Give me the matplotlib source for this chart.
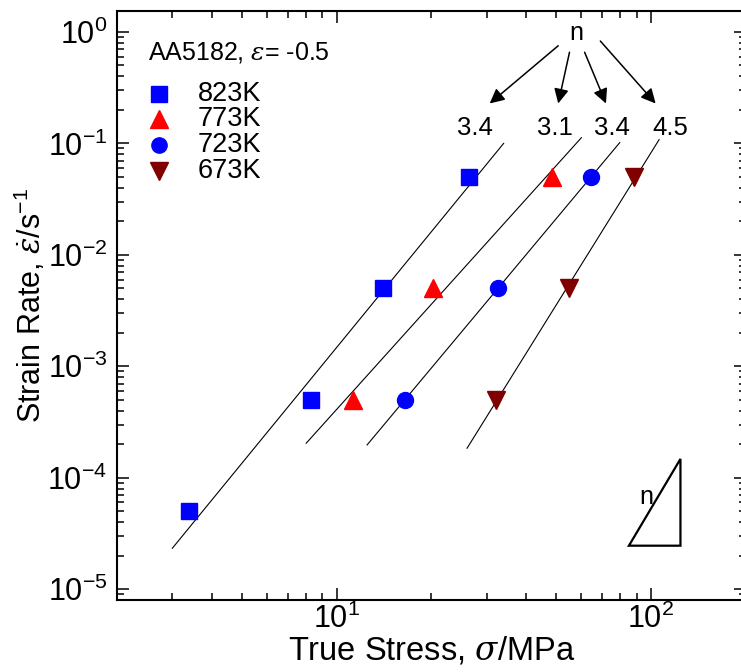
import matplotlib
matplotlib.use("Agg")
import matplotlib.pyplot as plt
from matplotlib.ticker import LogLocator, NullFormatter
from matplotlib.patches import Polygon

plt.rcParams['font.family'] = ['Liberation Sans', 'DejaVu Sans']
plt.rcParams['mathtext.fontset'] = 'custom'
plt.rcParams['mathtext.rm'] = 'Liberation Sans'
plt.rcParams['mathtext.it'] = 'DejaVu Serif:italic'

# data (stress in MPa, strain rate in 1/s)
temps = ["823K", "773K", "723K", "673K"]
rates = [5e-5, 5e-4, 5e-3, 5e-2]
stress_823 = [3.4, 8.3, 14.0, 26.3]
stress_773 = [None, 11.3, 20.2, 48.4]
stress_723 = [None, 16.5, 32.6, 64.4]
stress_673 = [None, 32.1, 54.8, 88.3]
n_values = ["3.4", "3.1", "3.4", "4.5"]

# fitted power-law lines, end points (stress, rate)
fit_stress = [[3.0, 34.0], [8.0, 60.1], [12.5, 79.6], [26.0, 106.2]]
fit_rate = [[2.33e-5, 0.100], [2.04e-4, 0.1125], [1.97e-4, 0.1016], [1.84e-4, 0.108]]

markers = ['s', '^', 'o', 'v']
colors = ['#0000ff', '#ff0000', '#0000ff', '#800000']
sizes = [12, 13, 11.5, 13]

fig = plt.figure(figsize=(7.41, 6.72), dpi=100)
ax = fig.add_axes([117/741, 72/672, 628.5/741, 589/672])
ax.set_xscale('log')
ax.set_yscale('log')
ax.set_xlim(2, 200)
ax.set_ylim(8e-6, 1.54)

all_stress = [stress_823, stress_773, stress_723, stress_673]
for i in range(4):
    xs = [s for s in all_stress[i] if s is not None]
    ys = [r for s, r in zip(all_stress[i], rates) if s is not None]
    ax.plot(fit_stress[i], fit_rate[i], color='k', lw=0.8, zorder=2)
    ax.plot(xs, ys, ls='none', marker=markers[i], color=colors[i], ms=sizes[i],
            mec=colors[i], zorder=3)

# legend drawn by hand (tight row spacing)
leg_y = [0.859, 0.817, 0.772, 0.728]
for i in range(4):
    ax.plot([0.0675], [leg_y[i]], marker=markers[i], color=colors[i], ms=sizes[i] - 0.5,
            transform=ax.transAxes, clip_on=False)
    ax.text(0.129, leg_y[i], temps[i], transform=ax.transAxes, fontsize=19.5,
            va='center', ha='left')

ax.text(0.05, 0.93, r'AA5182, $\varepsilon$= -0.5', transform=ax.transAxes,
        fontsize=18, va='center', ha='left')

# n labels and arrows
ax.text(0.731, 0.962, 'n', transform=ax.transAxes, fontsize=18, ha='center', va='center')
label_x = [0.569, 0.697, 0.787, 0.881]
arrow_start = [(0.702, 0.941), (0.720, 0.930), (0.744, 0.930), (0.769, 0.949)]
arrow_end = [(0.593, 0.843), (0.702, 0.843), (0.778, 0.843), (0.857, 0.843)]
for i in range(4):
    ax.text(label_x[i], 0.801, n_values[i], transform=ax.transAxes, fontsize=18.5,
            ha='center', va='center')
    ax.annotate('', xy=arrow_end[i], xytext=arrow_start[i], xycoords='axes fraction',
                textcoords='axes fraction',
                arrowprops=dict(arrowstyle='-|>', color='k', lw=1.1,
                                mutation_scale=22, shrinkA=0, shrinkB=0))

# slope triangle
tri = Polygon([(0.8145, 0.0922), (0.8965, 0.0922), (0.8965, 0.2395)], closed=True,
              fill=False, ec='k', lw=1.6, transform=ax.transAxes, joinstyle='miter')
ax.add_patch(tri)
ax.text(0.842, 0.175, 'n', transform=ax.transAxes, fontsize=18, ha='center', va='center')

ax.set_xlabel(r'True Stress, $\sigma$/MPa', fontsize=23.5)
ax.set_ylabel(r'Strain Rate, $\dot{\varepsilon}$/s$^{-1}$', fontsize=22)
ax.xaxis.set_label_coords(0.5, -0.058)
ax.yaxis.set_label_coords(-0.11, 0.5)

ax.xaxis.set_major_locator(LogLocator(base=10))
ax.yaxis.set_major_locator(LogLocator(base=10, numticks=12))
ax.xaxis.set_minor_locator(LogLocator(base=10, subs=range(2, 10), numticks=12))
ax.yaxis.set_minor_locator(LogLocator(base=10, subs=range(2, 10), numticks=12))
ax.xaxis.set_minor_formatter(NullFormatter())
ax.yaxis.set_minor_formatter(NullFormatter())
ax.tick_params(which='both', direction='in', top=True, right=True, width=1.1,
               labelsize=22)
ax.tick_params(which='major', length=8.5)
ax.tick_params(axis='y', which='major', pad=7)
ax.tick_params(axis='x', which='major', pad=3)
ax.tick_params(which='minor', length=5)
for sp in ax.spines.values():
    sp.set_linewidth(1.5)

fig.savefig('out.png', dpi=100)
